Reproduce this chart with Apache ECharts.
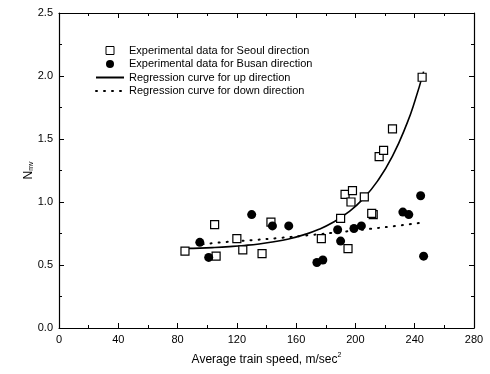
<!DOCTYPE html>
<html><head><meta charset="utf-8">
<script src="https://cdn.jsdelivr.net/npm/echarts@6/dist/echarts.min.js"></script>
<style>html,body{margin:0;padding:0;background:#fff}#c{width:490px;height:374px}</style>
</head><body><div id="c"></div>
<script>
const xTicks = [0, 40, 80, 120, 160, 200, 240, 280];
const yTicks = [0.0, 0.5, 1.0, 1.5, 2.0, 2.5];
const seoulX = [85, 105, 106, 120, 124, 137, 143, 177, 190, 193, 198, 197, 195, 206, 212, 211, 216, 219, 225, 245];
const seoulY = [0.61, 0.82, 0.57, 0.71, 0.62, 0.59, 0.84, 0.71, 0.87, 1.06, 1.09, 1.00, 0.63, 1.04, 0.90, 0.91, 1.36, 1.41, 1.58, 1.99];
const busanX = [95, 101, 130, 144, 155, 174, 178, 188, 190, 199, 204, 232, 236, 244, 246];
const busanY = [0.68, 0.56, 0.90, 0.81, 0.81, 0.52, 0.54, 0.78, 0.69, 0.79, 0.81, 0.92, 0.90, 1.05, 0.57];
const upX = [86, 95, 105, 115, 125, 135, 145, 155, 165, 175, 185, 195, 205, 215, 225, 235, 240, 246];
const upY = [0.632, 0.634, 0.639, 0.646, 0.655, 0.667, 0.684, 0.707, 0.739, 0.781, 0.839, 0.917, 1.023, 1.168, 1.364, 1.630, 1.797, 2.035];
const downX = [97, 110, 130, 150, 170, 190, 210, 230, 247];
const downY = [0.665, 0.680, 0.697, 0.716, 0.738, 0.762, 0.787, 0.814, 0.840];
const names = ['Experimental data for Seoul direction', 'Experimental data for Busan direction', 'Regression curve for up direction', 'Regression curve for down direction'];

const zip = (a, b) => a.map((v, i) => [v, b[i]]);
const F = 'Liberation Sans, Arial, sans-serif';
const chart = echarts.init(document.getElementById('c'), null, {renderer: 'canvas'});
const axCommon = {
  axisLine: {show: true, onZero: false, lineStyle: {color: '#000', width: 1.2}},
  axisTick: {show: true, inside: true, length: 5, lineStyle: {color: '#000'}},
  minorTick: {show: true, splitNumber: 2, length: 3, lineStyle: {color: '#000'}},
  splitLine: {show: false}
};
const SQ = 'path://M0,0L10,0L10,10L0,10Z';
const CI = 'path://M10,5A5,5,0,1,1,0,5A5,5,0,1,1,10,5Z';
chart.setOption({
  animation: false,
  grid: {left: 59, right: 16, top: 13, bottom: 46},
  legend: {
    orient: 'vertical', left: 95, top: 45, padding: 0, itemWidth: 28, itemHeight: 8, itemGap: 2.5,
    symbolKeepAspect: true,
    textStyle: {fontFamily: F, fontSize: 11, color: '#000', lineHeight: 11},
    data: [
      {name: names[0], icon: SQ, itemStyle: {borderWidth: 1}},
      {name: names[1], icon: CI},
      {name: names[2]},
      {name: names[3]}
    ]
  },
  xAxis: [
    Object.assign({type: 'value', min: 0, max: 280, interval: 40, position: 'bottom',
      name: 'Average train speed, m/sec{sup|2}', nameLocation: 'middle', nameGap: 24, nameMoveOverlap: false,
      nameTextStyle: {fontFamily: F, fontSize: 12, color: '#000', rich: {sup: {fontSize: 7, verticalAlign: 'top', padding: [0, 0, 8, 0], fontFamily: F}}},
      axisLabel: {fontFamily: F, fontSize: 11, color: '#000', margin: 6}}, axCommon),
    Object.assign({type: 'value', min: 0, max: 280, interval: 40, position: 'top', axisLabel: {show: false}}, axCommon)
  ],
  yAxis: [
    Object.assign({type: 'value', min: 0, max: 2.5, interval: 0.5, position: 'left',
      name: 'N{sub|mv}', nameLocation: 'middle', nameGap: 24, nameMoveOverlap: false,
      nameTextStyle: {fontFamily: F, fontSize: 12, color: '#000', rich: {sub: {fontSize: 7, verticalAlign: 'bottom', padding: [6, 0, 0, 0], fontFamily: F}}},
      axisLabel: {fontFamily: F, fontSize: 11, color: '#000', margin: 6, formatter: v => v.toFixed(1)}}, axCommon),
    Object.assign({type: 'value', min: 0, max: 2.5, interval: 0.5, position: 'right', axisLabel: {show: false}}, axCommon)
  ],
  series: [
    {name: names[0], type: 'scatter', symbol: 'rect', symbolSize: 8, data: zip(seoulX, seoulY), z: 4,
      itemStyle: {color: '#fff', borderColor: '#000', borderWidth: 1.2, opacity: 1}},
    {name: names[1], type: 'scatter', symbol: 'circle', symbolSize: 9, data: zip(busanX, busanY), z: 5,
      itemStyle: {color: '#000', opacity: 1}},
    {name: names[2], type: 'line', smooth: true, symbol: 'none', data: zip(upX, upY), z: 3,
      lineStyle: {color: '#000', width: 1.6}, itemStyle: {color: 'rgba(0,0,0,0)'}},
    {name: names[3], type: 'line', smooth: true, symbol: 'none', data: zip(downX, downY), z: 3,
      lineStyle: {color: '#000', width: 2, type: [1, 7], cap: 'round'}, itemStyle: {color: 'rgba(0,0,0,0)'}}
  ]
});
</script></body></html>
